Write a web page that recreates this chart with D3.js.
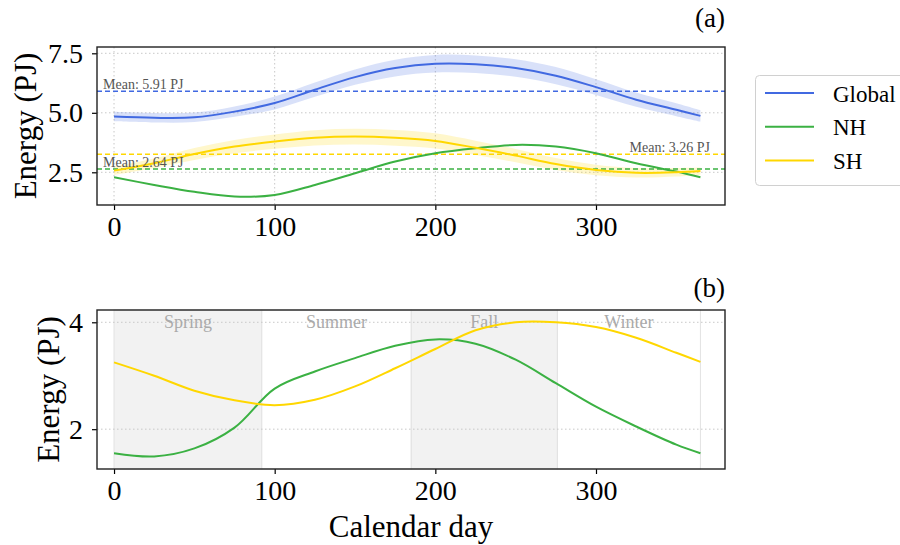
<!DOCTYPE html>
<html>
<head>
<meta charset="utf-8">
<script src="https://cdn.jsdelivr.net/npm/d3@7"></script>
<style>
    body { margin: 0; background: white; }
    svg text { font-family: "Liberation Serif", "Times New Roman", "DejaVu Serif", serif !important; }
</style>
</head>
<body>
<svg id="chart" width="900" height="545"></svg>
<script>
let days = [0, 25, 50, 75, 100, 125, 150, 175, 200, 225, 250, 275, 300, 325, 350, 365];

// Panel (a): mean daily energy and its spread
let globalTop = [4.84, 4.79, 4.81, 5.05, 5.41, 5.97, 6.50, 6.88, 7.06, 7.04, 6.88, 6.56, 6.08, 5.55, 5.13, 4.87];
let globalStd = [0.20, 0.20, 0.20, 0.22, 0.27, 0.30, 0.32, 0.35, 0.37, 0.37, 0.37, 0.36, 0.33, 0.30, 0.27, 0.24];
let nhTop = [2.29, 1.97, 1.68, 1.48, 1.55, 1.97, 2.46, 2.95, 3.30, 3.51, 3.65, 3.58, 3.30, 2.88, 2.53, 2.29];
let shTop = [2.57, 2.88, 3.27, 3.58, 3.79, 3.95, 4.00, 3.95, 3.82, 3.53, 3.20, 2.85, 2.60, 2.48, 2.50, 2.55];
let shStd = [0.18, 0.20, 0.25, 0.28, 0.30, 0.32, 0.33, 0.33, 0.32, 0.30, 0.28, 0.25, 0.22, 0.20, 0.18, 0.15];

// Means shown as dashed lines
let meanNames = ["Global", "NH", "SH"];
let meanValues = [5.91, 2.64, 3.26];

// Panel (b): curves aligned by season
let nhBottom = [1.55, 1.49, 1.64, 2.03, 2.76, 3.08, 3.33, 3.56, 3.68, 3.60, 3.30, 2.86, 2.42, 2.05, 1.71, 1.55];
let shBottom = [3.25, 3.00, 2.72, 2.54, 2.45, 2.55, 2.80, 3.14, 3.50, 3.85, 4.00, 4.00, 3.91, 3.71, 3.43, 3.26];

// Seasons (start day, end day)
let seasons = ["Spring", "Summer", "Fall", "Winter"];
let seasonStart = [0, 92, 185, 276];
let seasonEnd = [92, 185, 276, 365];

// Tick labels
let xTicks = [0, 100, 200, 300];
let yTicksTop = [2.5, 5.0, 7.5];
let yTicksBottom = [2, 4];

let colors = { Global: "#4169e1", NH: "#3bb143", SH: "#ffd700" };
let serif = "'Liberation Serif', 'Times New Roman', 'DejaVu Serif', serif";

let svg = d3.select("#chart");

// Scales shared by both panels on x
let left = 97, right = 725;
let x = d3.scaleLinear().domain([-10.6, 380.3]).range([left, right]);
let yTop = d3.scaleLinear().domain([1.126, 7.765]).range([205, 47]);
let yBot = d3.scaleLinear().domain([1.255, 4.23]).range([469, 310]);

function drawAxes(y, yTicks, fmt, vGrid) {
    let top = y.range()[1], bottom = y.range()[0];

    // dotted grid
    let grid = svg.append("g");
    grid.selectAll(".hg").data(yTicks).enter().append("line")
        .attr("x1", left).attr("x2", right)
        .attr("y1", d => y(d)).attr("y2", d => y(d))
        .attr("stroke", "#c8c8c8").attr("stroke-width", 1).attr("stroke-dasharray", "1.5,2.5");
    if (vGrid) {
        grid.selectAll(".vg").data(xTicks).enter().append("line")
            .attr("x1", d => x(d)).attr("x2", d => x(d))
            .attr("y1", top).attr("y2", bottom)
            .attr("stroke", "#c8c8c8").attr("stroke-width", 1).attr("stroke-dasharray", "1.5,2.5");
    }

    // x axis
    let xa = svg.append("g").attr("transform", "translate(0," + bottom + ")")
        .call(d3.axisBottom(x).tickValues(xTicks).tickSize(5).tickPadding(6));
    xa.attr("font-family", serif);
    xa.select(".domain").remove();
    xa.selectAll("text").style("font-size", "28px").style("font-family", serif).attr("fill", "black").attr("dy", "0.72em");
    xa.selectAll("line").attr("stroke", "black").attr("stroke-width", 1.2);

    // y axis
    let ya = svg.append("g").attr("transform", "translate(" + left + ",0)")
        .call(d3.axisLeft(y).tickValues(yTicks).tickFormat(fmt).tickSize(5).tickPadding(9));
    ya.attr("font-family", serif);
    ya.select(".domain").remove();
    ya.selectAll("text").style("font-size", "28px").style("font-family", serif).attr("fill", "black");
    ya.selectAll("line").attr("stroke", "black").attr("stroke-width", 1.2);

    return [top, bottom];
}

function frame(top, bottom) {
    svg.append("rect")
        .attr("x", left).attr("y", top)
        .attr("width", right - left).attr("height", bottom - top)
        .attr("fill", "none").attr("stroke", "#222").attr("stroke-width", 1.4);
}

function yLabel(cx, cy) {
    svg.append("text")
        .attr("transform", "translate(" + cx + "," + cy + ") rotate(-90)")
        .attr("text-anchor", "middle").attr("dominant-baseline", "central")
        .style("font-size", "31px").text("Energy (PJ)");
}

// ---------- Panel (a) ----------
let [tTop, tBottom] = drawAxes(yTop, yTicksTop, d3.format(".1f"), true);

let area = (vals, std) => d3.area()
    .x((d, i) => x(days[i]))
    .y0((d, i) => yTop(vals[i] - std[i]))
    .y1((d, i) => yTop(vals[i] + std[i]))
    .curve(d3.curveCatmullRom)(days);

let line = (vals, y) => d3.line()
    .x((d, i) => x(days[i]))
    .y((d, i) => y(vals[i]))
    .curve(d3.curveCatmullRom)(days);

// bands
svg.append("path").attr("d", area(globalTop, globalStd)).attr("fill", colors.Global).attr("opacity", 0.2);
svg.append("path").attr("d", area(shTop, shStd)).attr("fill", colors.SH).attr("opacity", 0.2);

// dashed means
meanNames.forEach((name, i) => {
    svg.append("line")
        .attr("x1", left).attr("x2", right)
        .attr("y1", yTop(meanValues[i])).attr("y2", yTop(meanValues[i]))
        .attr("stroke", colors[name]).attr("stroke-width", 1.5).attr("stroke-dasharray", "5,3");
});

// curves
svg.append("path").attr("d", line(globalTop, yTop)).attr("fill", "none").attr("stroke", colors.Global).attr("stroke-width", 2);
svg.append("path").attr("d", line(nhTop, yTop)).attr("fill", "none").attr("stroke", colors.NH).attr("stroke-width", 2);
svg.append("path").attr("d", line(shTop, yTop)).attr("fill", "none").attr("stroke", colors.SH).attr("stroke-width", 2);

// mean labels
meanNames.forEach((name, i) => {
    let atRight = name === "SH";
    svg.append("text")
        .attr("x", atRight ? 710 : 103)
        .attr("y", yTop(meanValues[i]) - 2)
        .attr("text-anchor", atRight ? "end" : "start")
        .style("font-size", "14px").attr("fill", "#555")
        .text("Mean: " + meanValues[i].toFixed(2) + " PJ");
});

frame(tTop, tBottom);
yLabel(25, (tTop + tBottom) / 2);
svg.append("text").attr("x", right).attr("y", 27).attr("text-anchor", "end")
    .style("font-size", "27px").text("(a)");

// legend
let legend = svg.append("g");
legend.append("rect").attr("x", 755.5).attr("y", 75.5).attr("width", 170).attr("height", 110)
    .attr("rx", 4).attr("fill", "white").attr("stroke", "#d0d0d0").attr("stroke-width", 1);
meanNames.forEach((name, i) => {
    let ly = 93 + i * 33.7;
    legend.append("line").attr("x1", 765).attr("x2", 814).attr("y1", ly).attr("y2", ly)
        .attr("stroke", colors[name]).attr("stroke-width", 2);
    legend.append("text").attr("x", 833).attr("y", ly + 1).attr("dominant-baseline", "central")
        .style("font-size", "23px").text(name);
});

// ---------- Panel (b) ----------
let bTop = yBot.range()[1], bBottom = yBot.range()[0];

// season spans
seasons.forEach((s, i) => {
    svg.append("rect")
        .attr("x", x(seasonStart[i])).attr("y", bTop)
        .attr("width", x(seasonEnd[i]) - x(seasonStart[i])).attr("height", bBottom - bTop)
        .attr("fill", i % 2 === 0 ? "#f2f2f2" : "white")
        .attr("stroke", "#e2e2e2").attr("stroke-width", 1);
});

drawAxes(yBot, yTicksBottom, d3.format("d"), false);

// season names
seasons.forEach((s, i) => {
    svg.append("text")
        .attr("x", x((seasonStart[i] + seasonEnd[i]) / 2))
        .attr("y", yBot(4) + 6)
        .attr("text-anchor", "middle")
        .style("font-size", "18px").attr("fill", "#aaaaaa")
        .text(s);
});

svg.append("path").attr("d", line(nhBottom, yBot)).attr("fill", "none").attr("stroke", colors.NH).attr("stroke-width", 2);
svg.append("path").attr("d", line(shBottom, yBot)).attr("fill", "none").attr("stroke", colors.SH).attr("stroke-width", 2);

frame(bTop, bBottom);
yLabel(48, (bTop + bBottom) / 2);
svg.append("text").attr("x", right).attr("y", 297).attr("text-anchor", "end")
    .style("font-size", "27px").text("(b)");

svg.append("text").attr("x", (left + right) / 2).attr("y", 537).attr("text-anchor", "middle")
    .style("font-size", "31px").text("Calendar day");
</script>
</body>
</html>
